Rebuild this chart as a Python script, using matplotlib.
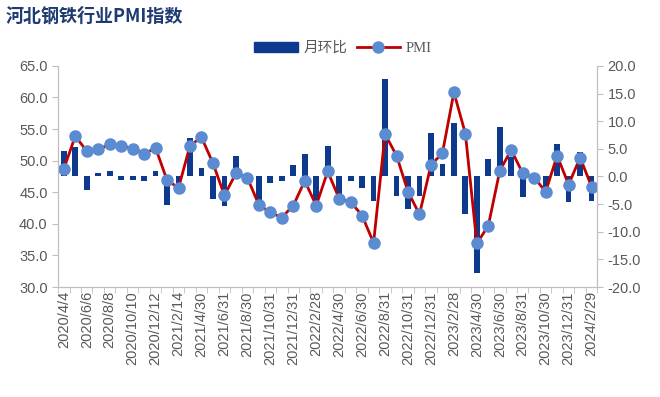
import matplotlib.pyplot as plt
import matplotlib.patches as mpatches
from matplotlib.lines import Line2D
import numpy as np

plt.rcParams['font.family'] = ['Liberation Sans', 'Noto Sans CJK SC', 'DejaVu Sans']

tick_labels = ["2020/4/4", "2020/6/6", "2020/8/8", "2020/10/10", "2020/12/12",
               "2021/2/14", "2021/4/30", "2021/6/31", "2021/8/30", "2021/10/31",
               "2021/12/31", "2022/2/28", "2022/4/30", "2022/6/30", "2022/8/31",
               "2022/10/31", "2022/12/31", "2023/2/28", "2023/4/30", "2023/6/30",
               "2023/8/31", "2023/10/30", "2023/12/31", "2024/2/29"]

# PMI (left axis)
pmi = [48.7, 53.9, 51.5, 51.8, 52.6, 52.4, 51.9, 51.1, 52.0, 46.9,
       45.7, 52.4, 53.7, 49.6, 44.5, 48.0, 47.3, 43.0, 41.8, 41.0,
       42.9, 46.8, 42.9, 48.3, 44.0, 43.5, 41.3, 37.0, 54.2, 50.8,
       45.1, 41.5, 49.3, 51.2, 60.8, 54.3, 36.9, 39.7, 48.4, 51.7,
       48.0, 47.3, 45.1, 50.8, 46.2, 50.5, 45.9]

# month-on-month change (right axis)
mom = [4.6, 5.4, -2.5, 0.6, 0.9, -0.6, -0.6, -0.9, 1.0, -5.2,
       -1.4, 6.9, 1.5, -4.1, -5.3, 3.7, -0.7, -5.1, -1.2, -0.9,
       2.0, 4.1, -5.2, 5.5, -3.9, -0.8, -2.1, -4.4, 17.6, -3.6,
       -5.9, -3.6, 7.9, 2.2, 9.7, -6.7, -17.5, 3.1, 8.9, 3.5,
       -3.8, -0.6, -2.1, 5.8, -4.7, 4.5, -4.5]

bar_c = '#0d3a8c'
line_c = '#c00000'
mark_c = '#5b8bd0'
grey = '#595959'
axis_c = '#bfbfbf'

fig = plt.figure(figsize=(6.6, 3.97), dpi=100)
ax = fig.add_axes([0.088, 0.277, 0.817, 0.557])
ax2 = ax.twinx()

x = np.arange(len(pmi))
ax2.bar(x, mom, width=0.5, color=bar_c)
ax.plot(x, pmi, color=line_c, lw=2, marker='o', ms=8,
        mfc=mark_c, mec=mark_c)

ax.set_zorder(ax2.get_zorder() + 1)
ax.patch.set_visible(False)

ax.set_xlim(-0.5, len(pmi) - 0.5)
ax.set_ylim(30, 65)
ax2.set_ylim(-20, 20)
ax.set_yticks(np.arange(30, 65.1, 5))
ax.set_yticklabels(['%.1f' % v for v in np.arange(30, 65.1, 5)])
ax2.set_yticks(np.arange(-20, 20.1, 5))
ax2.set_yticklabels(['%.1f' % v for v in np.arange(-20, 20.1, 5)])

ax.set_xticks(x[::2])
ax.set_xticklabels(tick_labels, rotation=90)
ax.set_xticks(np.arange(-0.5, len(pmi), 1), minor=True)

for a in (ax, ax2):
    a.spines['top'].set_visible(False)
    for s in ('left', 'right', 'bottom'):
        a.spines[s].set_color(axis_c)
    a.tick_params(axis='both', colors=axis_c, labelcolor=grey, labelsize=10.5,
                  length=4, width=0.8)
ax.tick_params(axis='x', which='major', length=0, pad=3)
ax.tick_params(axis='x', which='minor', length=4, color=axis_c)

fig.text(0.008, 0.945, '河北钢铁行业PMI指数', fontsize=13, fontweight='bold',
         color='#1f3b73', family=['Noto Sans CJK SC'])

handles = [mpatches.Patch(color=bar_c, label='月环比'),
           Line2D([0], [0], color=line_c, lw=2, marker='o', ms=8,
                  mfc=mark_c, mec=mark_c, label='PMI')]
leg = fig.legend(handles=handles, loc='center', bbox_to_anchor=(0.52, 0.878),
                 ncol=2, frameon=False, handlelength=3, columnspacing=0.6,
                 handletextpad=0.4, fontsize=10.5,
                 prop={'family': ['Liberation Serif', 'Noto Sans CJK SC'], 'size': 10.5})
for t in leg.get_texts():
    t.set_color(grey)

fig.savefig('out.png', dpi=100)
